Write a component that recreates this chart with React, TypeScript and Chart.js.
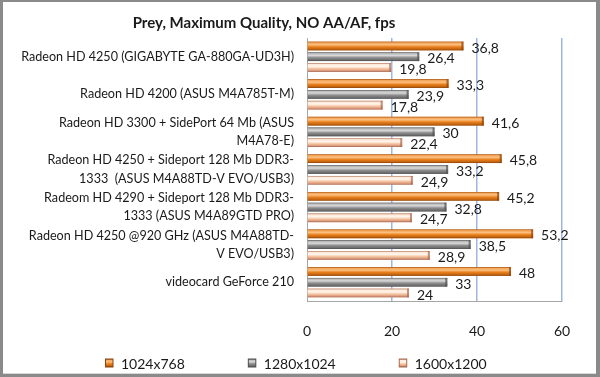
import React, { useEffect, useRef } from 'react';
import { Chart, registerables } from 'chart.js';

Chart.register(...registerables);

const chartTitle = 'Prey, Maximum Quality, NO AA/AF, fps';
const categories: string[][] = [
  ['Radeon HD 4250 (GIGABYTE GA-880GA-UD3H)'],
  ['Radeon HD 4200 (ASUS M4A785T-M)'],
  ['Radeon HD 3300 + SidePort 64 Mb (ASUS', 'M4A78-E)'],
  ['Radeon HD 4250 + Sideport 128 Mb DDR3-', '1333  (ASUS M4A88TD-V EVO/USB3)'],
  ['Radeom HD 4290 + Sideport 128 Mb DDR3-', '1333 (ASUS M4A89GTD PRO)'],
  ['Radeon HD 4250 @920 GHz (ASUS M4A88TD-', 'V EVO/USB3)'],
  ['videocard GeForce 210'],
];
const seriesNames = ['1024x768', '1280x1024', '1600x1200'];
const res1024 = [36.8, 33.3, 41.6, 45.8, 45.2, 53.2, 48];
const res1280 = [26.4, 23.9, 30, 33.2, 32.8, 38.5, 33];
const res1600 = [19.8, 17.8, 22.4, 24.9, 24.7, 28.9, 24];
const xMin = 0;
const xMax = 60;
const xStep = 20;

const FONT = 'Lato, "Open Sans", sans-serif';

const solidColors = ['#E8801C', '#8C8C8C', '#F6C4A0'];
const gradStops: [number, string][][] = [
  [[0, '#9a4a0c'], [0.12, '#f3a458'], [0.35, '#fbbf80'], [0.6, '#e8801c'], [0.88, '#c2620f'], [1, '#7e3c08']],
  [[0, '#555555'], [0.12, '#b8b8b8'], [0.35, '#d8d8d8'], [0.6, '#8e8e8e'], [0.88, '#6c6c6c'], [1, '#4a4a4a']],
  [[0, '#b0735a'], [0.14, '#fde9d8'], [0.38, '#fff6ee'], [0.62, '#f6c6a2'], [0.88, '#d8957a'], [1, '#9a5e48']],
];
const capColors = ['#8a4410', '#505050', '#a86a50'];

const framePlugin = {
  id: 'frame',
  beforeDraw(chart: any) {
    const ctx = chart.ctx;
    ctx.save();
    ctx.fillStyle = '#8a8a8a';
    ctx.fillRect(0, 0, chart.width, chart.height);
    ctx.fillStyle = '#ffffff';
    ctx.fillRect(3, 2, chart.width - 7, chart.height - 5);
    ctx.fillStyle = '#d8d8d8';
    ctx.fillRect(3, chart.height - 4, chart.width - 7, 1);
    ctx.restore();
  },
  afterDraw(chart: any) {
    const ctx = chart.ctx;
    ctx.save();
    // title
    ctx.fillStyle = '#1a1a1a';
    ctx.font = `bold 15px ${FONT}`;
    ctx.textAlign = 'center';
    ctx.textBaseline = 'middle';
    ctx.fillText(chartTitle, 264, 23);
    // legend
    ctx.font = `14px ${FONT}`;
    ctx.textAlign = 'left';
    let lx = 105;
    const ly = 363;
    seriesNames.forEach((name, i) => {
      const g = ctx.createLinearGradient(0, ly - 4, 0, ly + 4);
      gradStops[i].forEach(([o, c]) => g.addColorStop(o, c));
      ctx.fillStyle = capColors[i];
      ctx.fillRect(lx, ly - 4.5, 8.5, 9);
      ctx.fillStyle = g;
      ctx.fillRect(lx + 1, ly - 3.5, 6.5, 7);
      ctx.fillStyle = '#1a1a1a';
      ctx.fillText(name, lx + 16, ly + 1);
      lx += 16 + ctx.measureText(name).width + 63;
    });
    ctx.restore();
  },
};

const barPlugin = {
  id: 'barStyle',
  afterDatasetsDraw(chart: any) {
    const ctx = chart.ctx;
    ctx.save();
    chart.data.datasets.forEach((ds: any, di: number) => {
      const meta = chart.getDatasetMeta(di);
      meta.data.forEach((bar: any, i: number) => {
        const { x, y, base, height } = bar.getProps(['x', 'y', 'base', 'height'], true);
        const top = y - height / 2;
        const g = ctx.createLinearGradient(0, top, 0, top + height);
        gradStops[di].forEach(([o, c]) => g.addColorStop(o, c));
        ctx.fillStyle = g;
        ctx.fillRect(base, top, x - base, height);
        ctx.fillStyle = capColors[di];
        ctx.globalAlpha = 0.7;
        ctx.fillRect(x - 2, top, 2, height);
        ctx.globalAlpha = 1;
        const v = ds.data[i];
        ctx.fillStyle = '#1a1a1a';
        ctx.font = `14px ${FONT}`;
        ctx.textAlign = 'left';
        ctx.textBaseline = 'middle';
        ctx.fillText(String(v).replace('.', ','), x + 8, y + 2);
      });
    });
    ctx.restore();
  },
};

export default function App() {
  const ref = useRef<HTMLCanvasElement>(null);
  useEffect(() => {
    document.body.style.margin = '0';
    const canvas = ref.current;
    if (!canvas) return;
    const datasets = [res1024, res1280, res1600].map((d, i) => ({
      label: seriesNames[i],
      data: d,
      backgroundColor: solidColors[i],
      borderWidth: 0,
      categoryPercentage: 0.86,
      barPercentage: 0.8,
    }));
    const chart = new Chart(canvas, {
      type: 'bar',
      data: { labels: categories, datasets },
      options: {
        indexAxis: 'y',
        responsive: false,
        animation: false,
        layout: { padding: { top: 38, right: 38, left: 0, bottom: 0 } },
        plugins: {
          legend: { display: false },
          title: { display: false },
          tooltip: { enabled: false },
        },
        scales: {
          x: {
            min: xMin,
            max: xMax,
            ticks: { stepSize: xStep, padding: 22, color: '#1a1a1a', font: { family: FONT, size: 14 } },
            grid: {
              drawTicks: false,
              color: (c: any) => (c.tick && c.tick.value === 0 ? 'rgba(0,0,0,0)' : '#9db6e4'),
              lineWidth: 1.5,
            },
            border: { display: true, color: '#a6a6a6' },
            afterFit: (s: any) => { s.height = 76; },
          },
          y: {
            ticks: { autoSkip: false, padding: 13, color: '#1a1a1a', font: { family: FONT, size: 12.6, lineHeight: 1.45 } },
            grid: { display: false, drawTicks: false },
            border: { display: true, color: '#a6a6a6' },
            afterFit: (s: any) => { s.width = 307; },
          },
        },
      },
      plugins: [framePlugin, barPlugin],
    } as any);
    return () => chart.destroy();
  }, []);
  return (
    <div style={{ width: 600, height: 377 }}>
      <canvas ref={ref} width={600} height={377} />
    </div>
  );
}
